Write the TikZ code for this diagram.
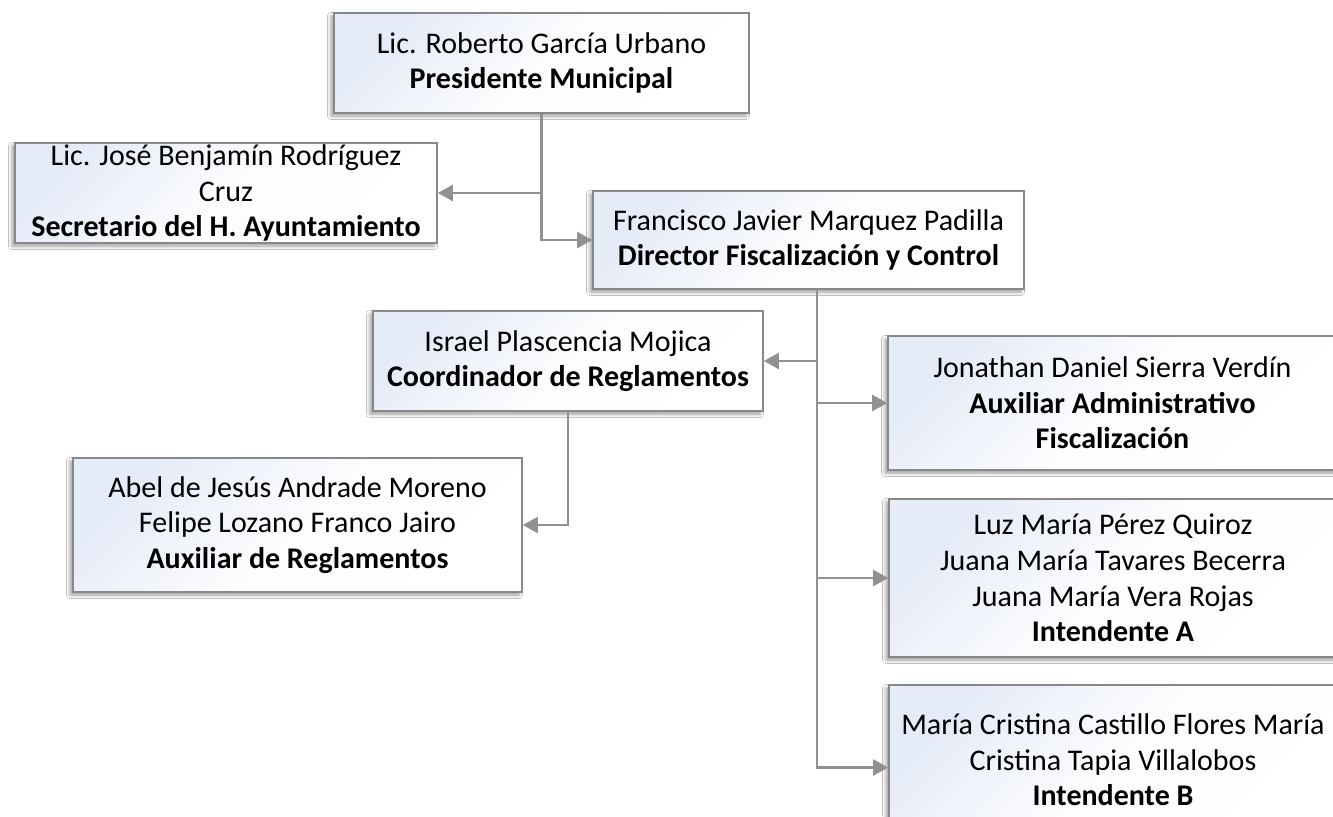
\documentclass[tikz,border=0pt]{standalone}
\usepackage{fontspec}
\setmainfont{Carlito}
\usetikzlibrary{arrows.meta,shadows.blur}
\definecolor{boxfill}{RGB}{229,235,247}
\definecolor{edgegray}{RGB}{136,136,136}
\definecolor{linegray}{RGB}{145,145,145}
\begin{document}
\begin{tikzpicture}[x=0.5pt,y=-0.5pt,
  orgbox/.style={draw=edgegray, line width=0.8pt, shading=axis,
    top color=boxfill, bottom color=white, middle color=white!88!boxfill,
    shading angle=45,
    align=center, inner sep=0pt,
    font=\fontsize{15}{17.8}\selectfont,
    blur shadow={shadow xshift=-1.5pt, shadow yshift=-1.5pt,
      shadow blur radius=1.8pt, shadow opacity=40}},
  conn/.style={draw=linegray, line width=1.1pt,
    -{Triangle[length=7.5pt,width=8pt]}}]
\useasboundingbox (0,0) rectangle (1333,816);
\fill[white] (0,0) rectangle (1333,816);
\begin{scope}
\clip (0,0) rectangle (1333,816);

\node[orgbox, minimum width=207.5pt, minimum height=50pt] (pres) at (541.5,63)
  {Lic. Roberto García Urbano\\\textbf{Presidente Municipal}};
\node[orgbox, minimum width=211pt, minimum height=50pt] (sec) at (226,193)
  {Lic. José Benjamín Rodríguez\\Cruz\\\textbf{Secretario del H. Ayuntamiento}};
\node[orgbox, minimum width=215.5pt, minimum height=49pt] (dir) at (808.5,240)
  {Francisco Javier Marquez Padilla\\\textbf{Director Fiscalización y Control}};
\node[orgbox, minimum width=195pt, minimum height=50pt] (coord) at (568,361)
  {Israel Plascencia Mojica\\\textbf{Coordinador de Reglamentos}};
\node[orgbox, minimum width=224.5pt, minimum height=67pt] (aux) at (1112.5,403)
  {Jonathan Daniel Sierra Verdín\\\textbf{Auxiliar Administrativo}\\\textbf{Fiscalización}};
\node[orgbox, minimum width=224pt, minimum height=79pt] (inta) at (1113,578)
  {Luz María Pérez Quiroz\\Juana María Tavares Becerra\\Juana María Vera Rojas\\\textbf{Intendente A}};
\node[orgbox, minimum width=224pt, minimum height=75pt] (intb) at (1113,760)
  {María Cristina Castillo Flores María\\Cristina Tapia Villalobos\\\textbf{Intendente B}};
\node[orgbox, minimum width=224.5pt, minimum height=67pt] (auxr) at (297.5,525)
  {Abel de Jesús Andrade Moreno\\Felipe Lozano Franco Jairo\\\textbf{Auxiliar de Reglamentos}};

\coordinate (dj) at ([xshift=4.25pt]dir.south);

\draw[conn] (pres.south) |- (sec.east);
\draw[conn] (pres.south) |- (dir.west);
\draw[conn] (dj) |- (coord.east);
\draw[conn] (dj) |- (aux.west);
\draw[conn] (dj) |- (inta.west);
\draw[conn] (dj) |- ([yshift=-3.75pt]intb.west);
\draw[conn] (coord.south) |- (auxr.east);
\end{scope}
\end{tikzpicture}
\end{document}
